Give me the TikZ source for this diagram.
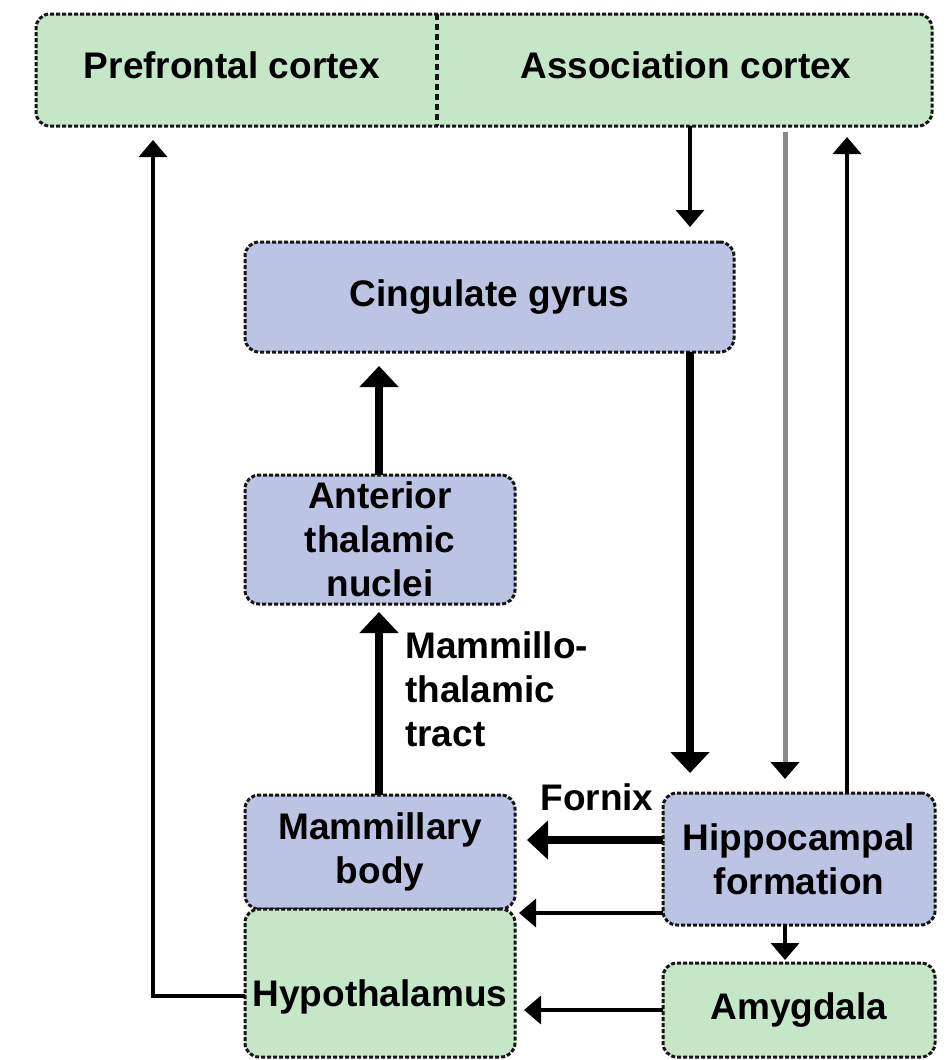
\documentclass[tikz,border=0pt]{standalone}
\usepackage{fontspec}
\setmainfont{Liberation Sans}
\usetikzlibrary{arrows.meta,calc}

\definecolor{boxline}{HTML}{161616}
\definecolor{cortexgreen}{HTML}{C6E6C8}
\definecolor{nucleusblue}{HTML}{BCC4E4}
\definecolor{fibregray}{HTML}{8A8A8A}

\tikzset{
  boxfont/.style={font=\bfseries\fontsize{37}{44}\selectfont},
  region/.style={boxfont, draw=boxline, line width=3pt,
    dash pattern=on 4pt off 2pt, rounded corners=14pt,
    align=center, inner sep=0pt, outer sep=0pt},
  greenbox/.style={region, fill=cortexgreen},
  bluebox/.style={region, fill=nucleusblue},
  divider/.style={draw=boxline, line width=3.2pt, dash pattern=on 6pt off 4pt},
  labeltext/.style={boxfont, inner sep=0pt, align=left},
  thinarrow/.style={line width=3.5pt, black, -{Triangle[width=28pt,length=17pt]}},
  grayarrow/.style={line width=5pt, fibregray, -{Triangle[width=28pt,length=17pt,color=black]}},
  thickarrow/.style={line width=7.5pt, black, -{Triangle[width=38pt,length=21pt]}},
}

\begin{document}
\begin{tikzpicture}[x=1pt, y=-1pt]
  \fill[white] (0,0) rectangle (948,1060);
  \useasboundingbox (0,0) rectangle (948,1060);

  % cortical areas along the top
  \node[greenbox, minimum width=896pt, minimum height=112pt] (cortex) at (484,70) {};
  \draw[divider] ([xshift=-47pt]cortex.north) -- ([xshift=-47pt]cortex.south);
  \node[labeltext] (pfc) at (232,65) {Prefrontal cortex};
  \node[labeltext] (asc) at (686,65) {Association cortex};

  % limbic structures
  \node[bluebox, minimum width=489pt, minimum height=110pt] (cing) at (489.5,297) {Cingulate gyrus};
  \node[bluebox, minimum width=270pt, minimum height=129pt] (ant) at (380,539.5) {Anterior\\thalamic\\nuclei};
  \node[bluebox, minimum width=270pt, minimum height=114pt] (mam) at (380,852) {Mammillary\\body};
  \node[greenbox, minimum width=270pt, minimum height=148pt] (hyp) at (380,983) {};
  \node[labeltext] (hyptext) at ($(hyp.center)+(0,14)$) {Hypothalamus};
  \node[bluebox, minimum width=272pt, minimum height=132pt] (hip) at (799,859) {Hippocampal\\formation};
  \node[greenbox, minimum width=272pt, minimum height=94pt] (amy) at (799,1010) {Amygdala};

  % columns and rows used by the pathways
  \coordinate (c1) at (690,0);
  \coordinate (c2) at (785,0);
  \coordinate (c3) at (847,0);
  \coordinate (c4) at (153,0);
  \coordinate (c5) at (379,0);
  \coordinate (r1) at (0,840);
  \coordinate (r2) at (0,913);
  \coordinate (r3) at (0,996);

  % Papez circuit and related projections
  \draw[thinarrow, shorten >=15pt] (cortex.south -| c1) -- (cing.north -| c1);
  \draw[grayarrow, shorten <=6pt, shorten >=14pt] (cortex.south -| c2) -- (hip.north -| c2);
  \draw[thinarrow, shorten >=11pt] (hip.north -| c3) -- (cortex.south -| c3);
  \draw[thickarrow, shorten >=20pt] (cing.south -| c1) -- (hip.north -| c1);
  \draw[thickarrow, shorten >=14pt] (ant.north -| c5) -- (cing.south -| c5);
  \draw[thickarrow, shorten >=8pt] (mam.north -| c5) -- (ant.south -| c5);
  \draw[thickarrow, shorten >=12pt] (hip.west |- r1) -- (mam.east |- r1);
  \draw[thinarrow, shorten >=4pt] (hip.west |- r2) -- (hyp.east |- r2);
  \draw[thinarrow, shorten >=3pt] (hip.south -| c2) -- (amy.north -| c2);
  \draw[thinarrow, shorten >=9pt] (amy.west) -- (hyp.east |- amy.west);
  \draw[thinarrow, shorten >=14pt] (hyp.west |- r3) -| (cortex.south -| c4);

  % pathway names
  \node[labeltext, anchor=north west] (mtt) at (405,631) {Mammillo-\\thalamic\\tract};
  \node[labeltext] (fornix) at (597,797) {Fornix};
\end{tikzpicture}
\end{document}
